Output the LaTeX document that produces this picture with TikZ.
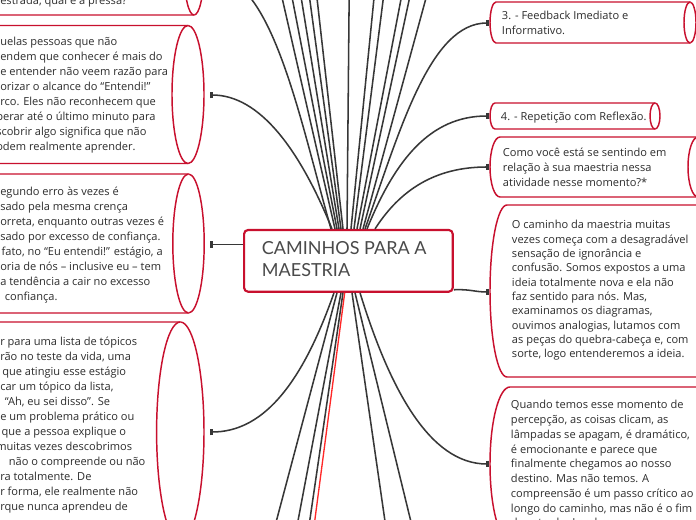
\documentclass[tikz,border=0pt]{standalone}
\usepackage{fontspec}
\setmainfont{Open Sans}
\newfontfamily\titlefont{Lato}
\usetikzlibrary{arrows.meta,calc}
\definecolor{boxred}{RGB}{200,16,46}
\definecolor{linegray}{RGB}{55,55,55}
\definecolor{txt}{RGB}{45,45,45}
\definecolor{titlegray}{RGB}{74,74,74}
\definecolor{hired}{RGB}{255,40,40}
\newcommand\fr{\rule{0pt}{9pt}}
\newcommand\cylbox[5]{%
  \filldraw[cylstyle] (#1,#3-#4) -- (#2,#3-#4) arc[start angle=-90,end angle=90,x radius=#5,y radius=#4] -- (#1,#3+#4) arc[start angle=90,end angle=270,x radius=#5,y radius=#4] -- cycle;
  \draw[cylstyle] (#2,#3+#4) arc[start angle=90,end angle=270,x radius=#5,y radius=#4];
}
\tikzset{
  cylstyle/.style={draw=boxred, fill=white, line width=1.1pt},
  conn/.style={draw=linegray, line width=1.15pt, -{Bar[width=5pt,line width=2.2pt]}},
  plainconn/.style={draw=linegray, line width=1.15pt},
  redconn/.style={draw=hired, line width=1pt},
  btext/.style={anchor=north west, inner sep=0pt, align=left, text=txt},
  titlebox/.style={draw=boxred, fill=white, line width=1.6pt, rounded corners=3pt, minimum width=156.5pt, minimum height=46.3pt, inner sep=0pt},
}
\begin{document}
\begin{tikzpicture}[x=0.75pt,y=-0.75pt]
\useasboundingbox (0,0) rectangle (696,520);
\fill[white] (0,0) rectangle (696,520);

% ---------- boxes ----------
\cylbox{-40}{194}{-25}{40}{9.5}
\cylbox{-40}{188}{94.5}{69}{16}
\cylbox{-40}{188.5}{243.5}{69.5}{15.7}
\cylbox{-40}{180.3}{432}{110}{23.7}
\cylbox{496}{690}{22.5}{20.5}{6}
\cylbox{495}{655}{116}{13}{5}
\cylbox{500}{698}{167}{30}{10}
\cylbox{507}{730}{291}{86}{17}
\cylbox{510}{730}{464}{77}{20}

\node[titlebox] (c) at (348.4,260.85) {};
\node[btext, text=titlegray, font=\titlefont\fontsize{13.5pt}{16.8pt}\selectfont] (ct) at (261.7,235.6) {\rule{0pt}{14pt}CAMINHOS PARA A\\MAESTRIA};

% ---------- texts ----------
\node[btext, font=\fontsize{8.3pt}{11.25pt}\selectfont] (l1) at (0,-8) {\fr estrada, qual é a pressa?};
\node[btext, font=\fontsize{8.3pt}{11.25pt}\selectfont] (l2) at (0,33.7) {\fr uelas pessoas que não\\
endem que conhecer é mais do\\
e entender não veem razão para\\
orizar o alcance do “Entendi!”\\
rco. Eles não reconhecem que\\
\hspace*{-3pt}perar até o último minuto para\\
\hspace*{-3pt}scobrir algo significa que não\\
\hspace*{-3pt}odem realmente aprender.};
\node[btext, font=\fontsize{8.3pt}{11.2pt}\selectfont] (l3) at (0,183.7) {\fr egundo erro às vezes é\\
sado pela mesma crença\\
orreta, enquanto outras vezes é\\
sado por excesso de confiança.\\
\hspace*{1pt}fato, no “Eu entendi!” estágio, a\\
oria de nós – inclusive eu – tem\\
a tendência a cair no excesso\\
\hspace*{3.5pt}confiança.};
\node[btext, font=\fontsize{8.3pt}{11.25pt}\selectfont] (l4) at (0,333) {\fr r para uma lista de tópicos\\
rão no teste da vida, uma\\
\hspace*{1.5pt}que atingiu esse estágio\\
car um tópico da lista,\\
\hspace*{3.5pt}“Ah, eu sei disso”. Se\\
e um problema prático ou\\
\hspace*{1pt}que a pessoa explique o\\
\hspace*{-3pt}muitas vezes descobrimos\\
\hspace*{6.5pt}não o compreende ou não\\
ra totalmente. De\\
r forma, ele realmente não\\
rque nunca aprendeu de};

\node[btext, font=\fontsize{8.3pt}{10.7pt}\selectfont] (r1) at (501.7,7.5) {\fr 3. - Feedback Imediato e\\Informativo.};
\node[btext, font=\fontsize{8.3pt}{10.7pt}\selectfont] (r2) at (500.7,108.5) {\fr 4. - Repetição com Reflexão.};
\node[btext, font=\fontsize{8.3pt}{11.5pt}\selectfont] (r3) at (502.7,144) {\fr Como você está se sentindo em\\relação à sua maestria nessa\\atividade nesse momento?*};
\node[btext, font=\fontsize{8.3pt}{10.75pt}\selectfont] (r4) at (511.7,216.5) {\fr O caminho da maestria muitas\\
vezes começa com a desagradável\\
sensação de ignorância e\\
confusão. Somos expostos a uma\\
ideia totalmente nova e ela não\\
faz sentido para nós. Mas,\\
examinamos os diagramas,\\
ouvimos analogias, lutamos com\\
as peças do quebra-cabeça e, com\\
sorte, logo entenderemos a ideia.};
\node[btext, font=\fontsize{8.3pt}{11.07pt}\selectfont] (r5) at (510.7,396.5) {\fr Quando temos esse momento de\\
percepção, as coisas clicam, as\\
lâmpadas se apagam, é dramático,\\
é emocionante e parece que\\
finalmente chegamos ao nosso\\
destino. Mas não temos. A\\
compreensão é um passo crítico ao\\
longo do caminho, mas não é o fim\\
da estrada. Lembre-se};

% ---------- connector end points ----------
\coordinate (L1in) at (210,-25);
\coordinate (L2in) at (210,95);
\coordinate (L3in) at (210,244.5);
\coordinate (L4in) at (210,432);
\coordinate (R1in) at (489,23);
\coordinate (R2in) at (489,116);
\coordinate (R3in) at (489,167);
\coordinate (R4in) at (489,292);
\coordinate (R5in) at (489,464);

\coordinate (u1) at (273.4,-40);
\coordinate (u2) at (284.8,-40);
\coordinate (u3) at (295,-40);
\coordinate (u4) at (304.4,-40);
\coordinate (u5) at (312.7,-40);
\coordinate (u6) at (349.5,-40);
\coordinate (u7) at (377.8,-40);
\coordinate (u8) at (388.2,-40);
\coordinate (u9) at (408.5,-40);
\coordinate (u10) at (417.7,-40);
\coordinate (u11) at (436.4,-40);

\coordinate (d1) at (266,560);
\coordinate (d2) at (290.6,560);
\coordinate (d3) at (304,560);
\coordinate (d4) at (309.6,560);
\coordinate (d5) at (390.6,560);
\coordinate (d6) at (420.3,560);

% ---------- connectors ----------
\draw[conn] ($(c.north west)+(88,0)$) .. controls (300,120) and (272,-25) .. (L1in);
\draw[conn] ($(c.north west)+(89,0)$) .. controls (300,150) and (260,95) .. (L2in);
\draw[conn] (c.west |- L3in) -- (L3in);
\draw[conn] ($(c.south west)+(91,0)$) .. controls (300,390) and (260,432) .. (L4in);
\draw[conn] ($(c.north west)+(122,0)$) .. controls (400,130) and (430,23) .. (R1in);
\draw[conn] ($(c.north west)+(124,0)$) .. controls (395,160) and (430,116) .. (R2in);
\draw[conn] ($(c.north west)+(132,0)$) .. controls (400,190) and (435,167) .. (R3in);
\draw[conn] ($(c.south east)+(0,-3)$) .. controls (470,289) and (475,292) .. (R4in);
\draw[conn] ($(c.south west)+(117,0)$) .. controls (390,390) and (430,464) .. (R5in);

\draw[plainconn] ($(c.north west)+(92,0)$) -- (u1);
\draw[plainconn] ($(c.north west)+(94,0)$) -- (u2);
\draw[plainconn] ($(c.north west)+(96,0)$) -- (u3);
\draw[plainconn] ($(c.north west)+(98,0)$) -- (u4);
\draw[plainconn] ($(c.north west)+(100,0)$) -- (u5);
\draw[plainconn] ($(c.north west)+(104,0)$) -- (u6);
\draw[plainconn] ($(c.north west)+(108,0)$) -- (u7);
\draw[plainconn] ($(c.north west)+(111,0)$) -- (u8);
\draw[plainconn] ($(c.north west)+(114,0)$) -- (u9);
\draw[plainconn] ($(c.north west)+(117,0)$) -- (u10);
\draw[plainconn] ($(c.north west)+(120,0)$) -- (u11);

\draw[plainconn] ($(c.south west)+(94,0)$) -- (d1);
\draw[plainconn] ($(c.south west)+(98,0)$) -- (d2);
\draw[plainconn] ($(c.south west)+(100,0)$) -- (d3);
\draw[redconn] ($(c.south west)+(101.7,0)$) -- (d4);
\draw[plainconn] ($(c.south west)+(109,0)$) -- (d5);
\draw[plainconn] ($(c.south west)+(112,0)$) -- (d6);
\end{tikzpicture}
\end{document}
